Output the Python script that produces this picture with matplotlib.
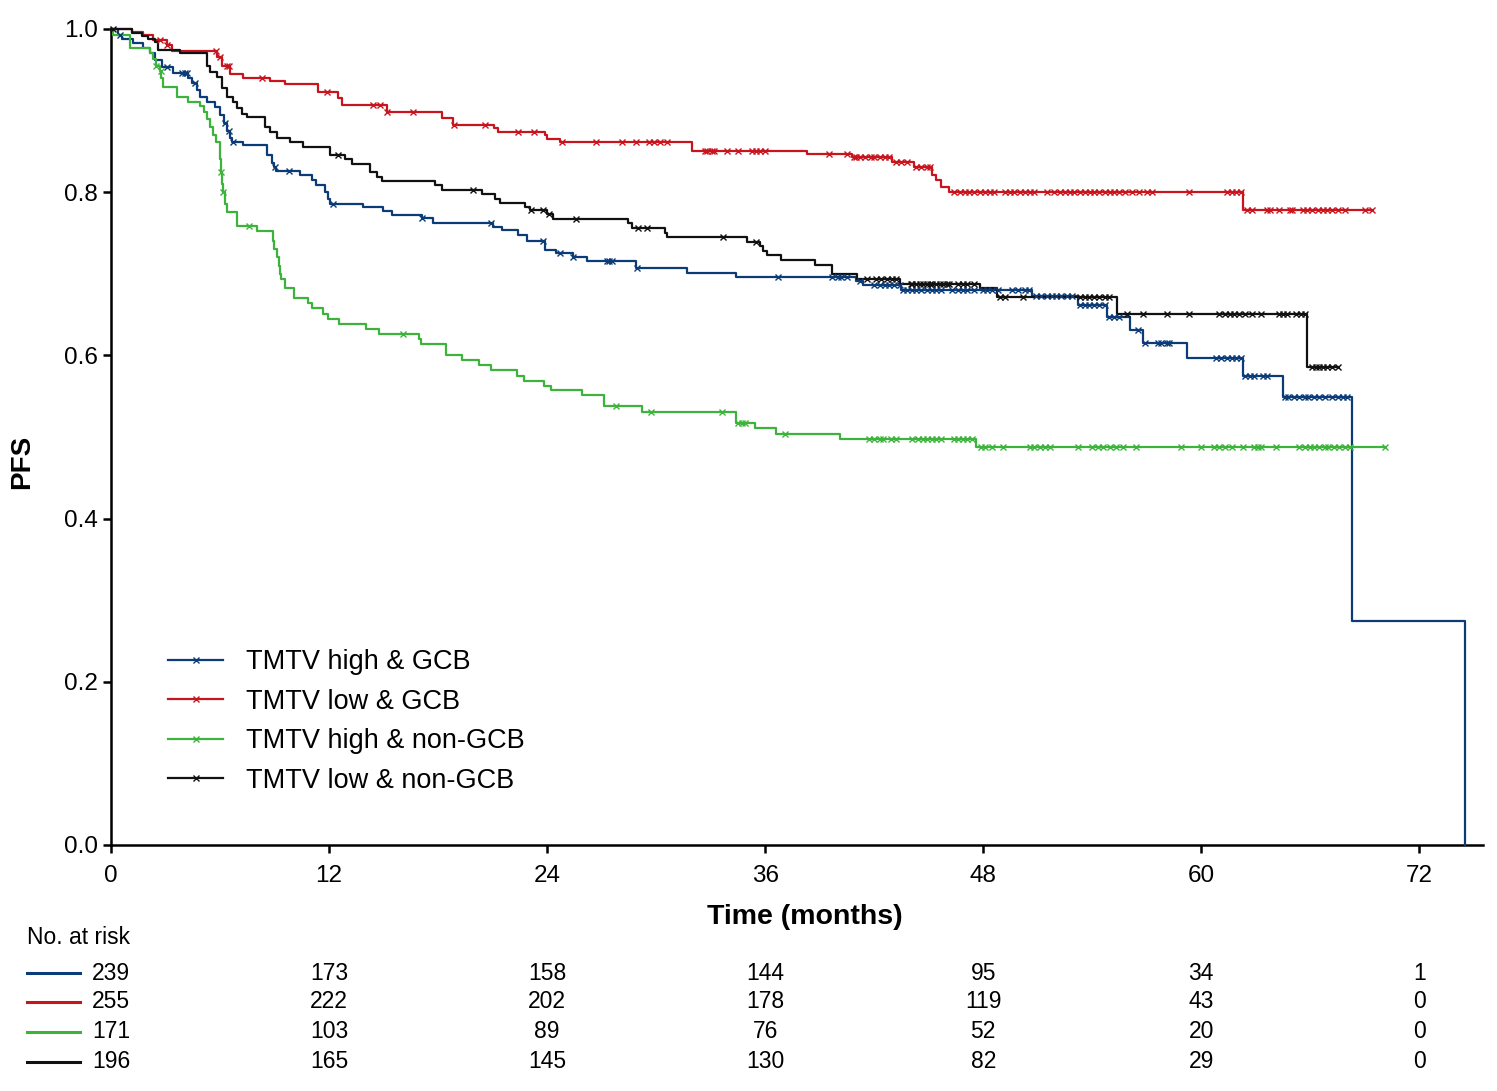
import numpy as np
import matplotlib
matplotlib.use('Agg')
import matplotlib.pyplot as plt
from matplotlib.lines import Line2D
from matplotlib.transforms import blended_transform_factory

plt.rcParams['font.family'] = ['Liberation Sans', 'DejaVu Sans']

labels = ['TMTV high & GCB', 'TMTV low & GCB', 'TMTV high & non-GCB', 'TMTV low & non-GCB']
colors = ['#0b3c78', '#c8141e', '#3cb43c', '#111111']

# TMTV high & GCB (blue): event times (months) and PFS after each event
blue_t = [0, 0.39, 0.6, 1.2, 1.76, 2.15, 2.4, 2.8, 3.4, 4.24, 4.46, 4.73, 4.9, 5.28, 5.72,
          6.0, 6.2, 6.4, 6.55, 6.66, 7.26, 8.6, 8.85, 9.0, 9.1, 10.4, 11.05, 11.3, 11.8,
          11.95, 12.05, 13.86, 14.96, 15.46, 17.1, 17.7, 21.0, 21.5, 22.4, 22.9, 23.9,
          24.5, 25.4, 26.2, 28.9, 31.7, 34.4, 41.0, 41.4, 43.5, 50.7, 53.2, 54.8, 56.1,
          56.8, 59.2, 62.3, 64.5, 68.3, 74.5]
blue_s = [1.0, 0.993, 0.988, 0.983, 0.977, 0.97, 0.962, 0.953, 0.946, 0.94, 0.934, 0.925,
          0.917, 0.91, 0.904, 0.895, 0.885, 0.875, 0.866, 0.862, 0.858, 0.845, 0.836, 0.831,
          0.826, 0.821, 0.815, 0.809, 0.80, 0.792, 0.786, 0.782, 0.777, 0.772, 0.768, 0.762,
          0.757, 0.753, 0.748, 0.74, 0.729, 0.725, 0.721, 0.716, 0.707, 0.701, 0.696, 0.691,
          0.686, 0.680, 0.673, 0.662, 0.647, 0.631, 0.615, 0.597, 0.575, 0.549, 0.275, 0.0]
blue_cens = [0.5, 3.1, 3.9, 4.1, 4.2, 4.6, 6.3, 6.5, 6.7, 9.05, 9.8, 12.2, 17.1, 20.9, 23.8,
             24.7, 25.4, 27.3, 27.4, 27.6, 28.95, 36.7, 39.7, 40.0, 40.2, 40.5, 41.2, 42.0,
             42.3, 42.6, 42.8, 43.1, 43.4, 43.6, 43.8, 44.1, 44.3, 44.6, 44.9, 45.2, 45.4,
             45.7, 46.3, 46.6, 46.9, 47.1, 47.5, 48.0, 48.2, 48.5, 48.8, 49.6, 49.9, 50.3,
             50.5, 50.9, 51.2, 51.5, 51.8, 52.0, 52.3, 52.6, 52.9, 53.3, 53.6, 53.8, 54.1,
             54.4, 54.7, 54.9, 55.2, 55.5, 56.5, 56.9, 57.6, 57.8, 58.1, 58.2, 60.8, 61.1,
             61.4, 61.7, 61.9, 62.2, 62.4, 62.7, 62.9, 63.4, 63.6, 64.6, 64.8, 65.1, 65.4,
             65.7, 65.9, 66.2, 66.5, 66.8, 67.2, 67.5, 67.8, 68.0]
blue_end = 74.5

# TMTV low & GCB (red)
red_t = [0, 1.16, 1.76, 2.31, 3.08, 3.36, 5.83, 6.1, 6.55, 7.26, 8.75, 9.57, 11.39, 12.49,
         12.71, 15.18, 18.2, 18.8, 21.1, 21.3, 23.9, 24.0, 24.7, 32.0, 38.3, 40.8, 43.0,
         44.2, 45.2, 45.4, 45.7, 46.1, 62.3]
red_s = [1.0, 0.996, 0.993, 0.986, 0.98, 0.973, 0.965, 0.955, 0.945, 0.94, 0.936, 0.933,
         0.923, 0.915, 0.907, 0.898, 0.891, 0.882, 0.878, 0.874, 0.87, 0.865, 0.861, 0.851,
         0.847, 0.843, 0.837, 0.831, 0.821, 0.815, 0.806, 0.80, 0.778]
red_cens = [2.7, 3.1, 5.8, 6.0, 6.4, 6.5, 8.3, 11.9, 14.4, 14.8, 15.2, 16.6, 18.9, 20.6,
            22.4, 23.3, 24.8, 26.7, 28.1, 28.9, 29.6, 29.9, 30.2, 30.6, 32.7, 32.8, 33.1,
            33.2, 33.9, 34.5, 35.3, 35.5, 35.7, 36.0, 39.5, 40.5, 40.9, 41.0, 41.2, 41.5,
            41.8, 42.0, 42.3, 42.6, 42.8, 43.2, 43.5, 43.8, 44.3, 44.6, 44.9, 45.1, 46.4,
            46.7, 47.0, 47.2, 47.5, 47.8, 48.1, 48.4, 48.6, 49.2, 49.5, 49.7, 50.0, 50.3,
            50.6, 50.8, 51.5, 51.9, 52.2, 52.5, 52.8, 53.0, 53.3, 53.6, 53.9, 54.1, 54.4,
            54.7, 55.0, 55.2, 55.5, 55.8, 56.2, 56.6, 57.0, 57.3, 59.3, 61.4, 61.7, 61.9,
            62.2, 62.5, 62.8, 63.6, 63.8, 64.3, 64.9, 65.0, 65.6, 65.8, 66.1, 66.4, 66.7,
            66.9, 67.2, 67.5, 67.9, 69.0, 69.4]
red_end = 69.4

# TMTV high & non-GCB (green)
green_t = [0, 0.11, 1.05, 2.15, 2.31, 2.48, 2.7, 2.78, 2.86, 3.63, 4.24, 4.9, 5.1, 5.28,
           5.45, 5.6, 5.78, 6.0, 6.05, 6.1, 6.16, 6.27, 6.38, 6.93, 8.03, 8.91, 9.0, 9.13,
           9.24, 9.3, 9.35, 9.57, 10.07, 10.84, 11.06, 11.66, 11.94, 12.54, 14.03, 14.74,
           16.94, 17.05, 18.43, 19.3, 20.24, 20.9, 22.33, 22.72, 23.82, 24.2, 25.91, 27.12,
           29.2, 34.38, 35.42, 36.58, 40.1, 47.63]
green_s = [1.0, 0.993, 0.976, 0.97, 0.963, 0.955, 0.948, 0.94, 0.929, 0.916, 0.911, 0.905,
           0.898, 0.89, 0.88, 0.87, 0.862, 0.84, 0.825, 0.81, 0.80, 0.785, 0.776, 0.758,
           0.752, 0.74, 0.73, 0.72, 0.71, 0.70, 0.694, 0.682, 0.670, 0.664, 0.658, 0.651,
           0.645, 0.639, 0.632, 0.626, 0.62, 0.614, 0.60, 0.594, 0.588, 0.582, 0.575, 0.569,
           0.5625, 0.557, 0.551, 0.538, 0.531, 0.5175, 0.511, 0.504, 0.497, 0.488]
green_cens = [2.5, 2.75, 6.06, 6.17, 7.6, 16.1, 27.8, 29.7, 33.6, 34.5, 34.7, 34.9, 37.1,
              41.7, 42.0, 42.3, 42.5, 42.9, 43.2, 44.1, 44.4, 44.7, 44.9, 45.2, 45.4, 45.7,
              46.4, 46.6, 46.9, 47.1, 47.4, 47.9, 48.1, 48.5, 49.1, 50.6, 50.8, 51.1, 51.4,
              51.7, 53.2, 54.0, 54.3, 54.6, 55.0, 55.3, 55.7, 56.4, 58.9, 60.0, 60.7, 61.0,
              61.3, 61.7, 62.3, 62.9, 63.1, 63.3, 64.1, 65.4, 65.7, 66.0, 66.2, 66.5, 66.8,
              67.0, 67.3, 67.6, 67.9, 68.2, 70.1]
green_end = 70.1

# TMTV low & non-GCB (black)
black_t = [0, 1.16, 1.7, 2.04, 2.42, 2.59, 3.8, 5.28, 5.45, 5.83, 6.1, 6.38, 6.71, 6.93,
           7.2, 7.48, 8.47, 8.75, 9.13, 9.85, 10.56, 12.05, 12.87, 13.26, 14.25, 14.63,
           14.9, 17.82, 18.2, 20.4, 21.12, 21.4, 22.77, 23.05, 23.98, 24.31, 28.44, 28.66,
           30.47, 30.58, 34.98, 35.7, 35.9, 36.08, 36.9, 38.72, 39.66, 41.03, 43.4, 47.8,
           48.74, 55.34, 65.84]
black_s = [1.0, 0.995, 0.991, 0.988, 0.984, 0.974, 0.97, 0.954, 0.947, 0.941, 0.927, 0.917,
           0.911, 0.903, 0.896, 0.892, 0.88, 0.874, 0.866, 0.862, 0.855, 0.846, 0.84, 0.8346,
           0.825, 0.819, 0.814, 0.809, 0.803, 0.798, 0.792, 0.787, 0.782, 0.778, 0.773,
           0.767, 0.762, 0.7565, 0.75, 0.745, 0.739, 0.734, 0.728, 0.723, 0.717, 0.711, 0.70,
           0.694, 0.688, 0.682, 0.672, 0.651, 0.586]
black_cens = [0.1, 12.5, 19.9, 23.1, 23.8, 24.1, 25.6, 29.0, 29.5, 33.7, 35.5, 41.6, 42.1,
              42.4, 42.7, 43.0, 43.2, 44.0, 44.1, 44.3, 44.5, 44.7, 44.9, 45.1, 45.2, 45.4,
              45.6, 45.8, 46.0, 46.1, 46.6, 46.9, 47.1, 47.5, 48.9, 49.2, 50.2, 53.3, 53.6,
              53.8, 54.1, 54.4, 54.7, 54.9, 55.9, 56.8, 58.1, 59.3, 61.0, 61.3, 61.6, 61.8,
              62.1, 62.4, 62.8, 63.3, 64.3, 64.5, 64.7, 65.2, 65.5, 65.7, 66.1, 66.3, 66.5,
              66.7, 66.9, 67.2, 67.5]
black_end = 67.5

# numbers at risk
risk_times = [0, 12, 24, 36, 48, 60, 72]
risk_blue = [239, 173, 158, 144, 95, 34, 1]
risk_red = [255, 222, 202, 178, 119, 43, 0]
risk_green = [171, 103, 89, 76, 52, 20, 0]
risk_black = [196, 165, 145, 130, 82, 29, 0]

series = [
    (blue_t, blue_s, blue_cens, blue_end),
    (red_t, red_s, red_cens, red_end),
    (green_t, green_s, green_cens, green_end),
    (black_t, black_s, black_cens, black_end),
]
risks = [risk_blue, risk_red, risk_green, risk_black]

fig = plt.figure(figsize=(14.97, 10.91), dpi=100)
ax = fig.add_axes([0.0741, 0.2255, 0.9165, 0.748])

for (t, s, cens, end), col in zip(series, colors):
    t = np.array(t)
    s = np.array(s)
    x = np.append(t, end)
    y = np.append(s, s[-1])
    ax.step(x, y, where='post', color=col, lw=1.6, clip_on=False, zorder=3)
    cens = np.array(cens)
    idx = np.searchsorted(t, cens, side='right') - 1
    ax.plot(cens, s[idx], 'x', color=col, ms=5, mew=1.0, clip_on=False, zorder=4)

ax.set_xlim(0, 75.5)
ax.set_ylim(0, 1.0)
ax.set_xticks([0, 12, 24, 36, 48, 60, 72])
ax.set_yticks([0.0, 0.2, 0.4, 0.6, 0.8, 1.0])
ax.set_yticklabels(['0.0', '0.2', '0.4', '0.6', '0.8', '1.0'])
for side in ['top', 'right']:
    ax.spines[side].set_visible(False)
for side in ['left', 'bottom']:
    ax.spines[side].set_linewidth(1.8)
ax.tick_params(direction='out', length=5.5, width=1.8, labelsize=17.5)
ax.tick_params(axis='x', pad=9)
ax.tick_params(axis='y', pad=4)

fig.text(0.5377, 1 - 917 / 1091, 'Time (months)', ha='center', va='center',
         fontsize=20.5, fontweight='bold')
fig.text(22 / 1497, 1 - 462 / 1091, 'PFS', ha='center', va='center', rotation=90,
         fontsize=20, fontweight='bold')

handles = [Line2D([0], [0], color=c, lw=1.6, marker='x', ms=5, mew=1.0) for c in colors]
ax.legend(handles, labels, loc='upper left', bbox_to_anchor=(0.0415, 0.240), frameon=False,
          fontsize=19.5, handlelength=2.05, handletextpad=0.85, labelspacing=0.5,
          borderpad=0, borderaxespad=0, numpoints=1)

# number at risk table
tr = blended_transform_factory(ax.transData, fig.transFigure)
fig.text(27 / 1497, 1 - 937 / 1091, 'No. at risk', ha='left', va='center', fontsize=16.5)
row_y = [1 - 973 / 1091, 1 - 1002 / 1091, 1 - 1032 / 1091, 1 - 1062 / 1091]
for vals, col, yy in zip(risks, colors, row_y):
    fig.add_artist(Line2D([27 / 1497, 80 / 1497], [yy, yy], color=col, lw=2.2,
                          transform=fig.transFigure))
    for tt, v in zip(risk_times, vals):
        ax.text(tt, yy, str(v), transform=tr, ha='center', va='center', fontsize=16.5,
                clip_on=False)

fig.savefig('out.png', dpi=100)
